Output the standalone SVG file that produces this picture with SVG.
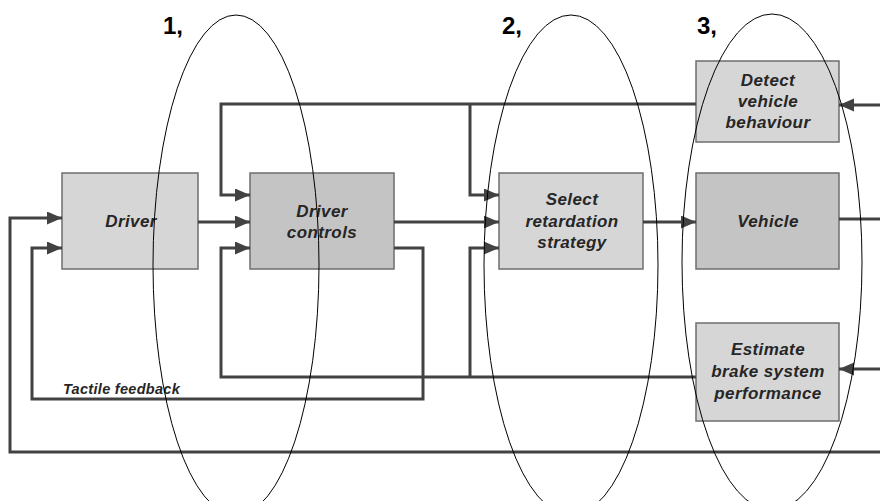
<svg xmlns="http://www.w3.org/2000/svg" width="880" height="501" viewBox="0 0 880 501">
  <style>
    .box { stroke: #6e6e6e; stroke-width: 1.5; }
    .light { fill: #d6d6d6; }
    .dark { fill: #c4c4c4; }
    .lbl { font-family: "Liberation Sans", Arial, sans-serif; font-weight: bold; font-style: italic; font-size: 17px; letter-spacing: 0.4px; fill: #262626; text-anchor: middle; }
    .wire { fill: none; stroke: #424242; stroke-width: 3; stroke-linejoin: miter; }
    .zone { fill: none; stroke: #000; stroke-width: 1; }
    .num { font-family: "Liberation Sans", Arial, sans-serif; font-weight: bold; font-size: 24px; fill: #000; }
    .note { font-family: "Liberation Sans", Arial, sans-serif; font-weight: bold; font-style: italic; font-size: 14.5px; letter-spacing: 0.3px; fill: #262626; }
  </style>
  <defs>
    <marker id="arrow" markerUnits="userSpaceOnUse" markerWidth="16" markerHeight="14" refX="15" refY="6.5" orient="auto">
      <path d="M0,0 L15,6.5 L0,13 z" fill="#424242"/>
    </marker>
  </defs>

  <rect width="880" height="501" fill="#fff"/>

  <!-- process blocks -->
  <g id="driver">
    <rect class="box light" x="62" y="173" width="136" height="96"/>
    <text class="lbl" x="131" y="227">Driver</text>
  </g>
  <g id="driver-controls">
    <rect class="box dark" x="250" y="173" width="144" height="96"/>
    <text class="lbl" x="322" y="217">Driver</text>
    <text class="lbl" x="322" y="238">controls</text>
  </g>
  <g id="select-strategy">
    <rect class="box light" x="499" y="173" width="144" height="96"/>
    <text class="lbl" x="572" y="205">Select</text>
    <text class="lbl" x="572" y="227">retardation</text>
    <text class="lbl" x="572" y="248">strategy</text>
  </g>
  <g id="vehicle">
    <rect class="box dark" x="696" y="173" width="143" height="96"/>
    <text class="lbl" x="768" y="227">Vehicle</text>
  </g>
  <g id="detect-behaviour">
    <rect class="box light" x="696" y="61" width="143" height="81"/>
    <text class="lbl" x="768" y="86">Detect</text>
    <text class="lbl" x="768" y="107">vehicle</text>
    <text class="lbl" x="768" y="128">behaviour</text>
  </g>
  <g id="estimate-performance">
    <rect class="box light" x="696" y="323" width="143" height="98"/>
    <text class="lbl" x="768" y="355">Estimate</text>
    <text class="lbl" x="768" y="377">brake system</text>
    <text class="lbl" x="768" y="399">performance</text>
  </g>

  <!-- signal lines -->
  <g id="connectors">
    <!-- forward chain -->
    <path class="wire" d="M198,222 H250" marker-end="url(#arrow)"/>
    <path class="wire" d="M394,222 H499" marker-end="url(#arrow)"/>
    <path class="wire" d="M643,222 H696" marker-end="url(#arrow)"/>
    <path class="wire" d="M839,219 H880"/>
    <!-- behaviour feedback -->
    <path class="wire" d="M880,105 H839" marker-end="url(#arrow)"/>
    <path class="wire" d="M696,104 H221 V195 H250" marker-end="url(#arrow)"/>
    <path class="wire" d="M470,104 V195 H499" marker-end="url(#arrow)"/>
    <!-- performance feedback -->
    <path class="wire" d="M880,369 H839" marker-end="url(#arrow)"/>
    <path class="wire" d="M696,377 H221 V248 H250" marker-end="url(#arrow)"/>
    <path class="wire" d="M470,377 V248 H499" marker-end="url(#arrow)"/>
    <!-- tactile feedback -->
    <path class="wire" d="M394,248 H423 V399 H32 V248 H62" marker-end="url(#arrow)"/>
    <!-- outer loop -->
    <path class="wire" d="M880,452 H10 V218 H62" marker-end="url(#arrow)"/>
  </g>

  <text class="note" x="63" y="394">Tactile feedback</text>

  <!-- stage regions -->
  <g id="stages">
    <ellipse class="zone" cx="236" cy="265" rx="83" ry="250"/>
    <ellipse class="zone" cx="571" cy="265" rx="87" ry="250"/>
    <ellipse class="zone" cx="772" cy="262" rx="90" ry="248"/>
    <text class="num" x="163" y="34">1,</text>
    <text class="num" x="502" y="34">2,</text>
    <text class="num" x="697" y="34">3,</text>
  </g>
</svg>
